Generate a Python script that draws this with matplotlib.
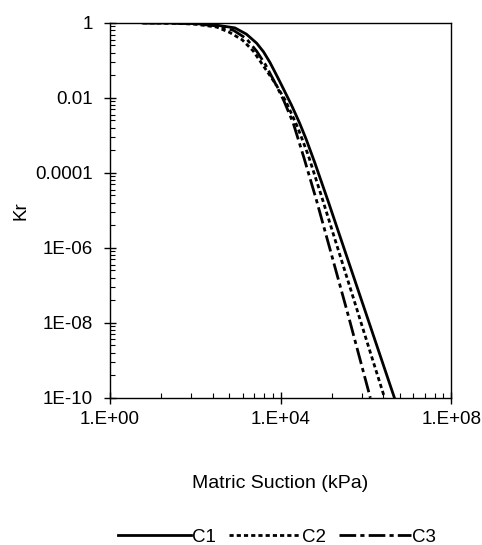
import matplotlib
matplotlib.use('Agg')
import matplotlib.pyplot as plt
import numpy as np
from matplotlib.ticker import FixedLocator, FixedFormatter, NullFormatter

# values (suction in kPa, relative permeability Kr)
c1_suction = [5.9, 31.6, 100, 316, 851, 1585, 2754, 3981, 5623, 7943, 10470,
              18200, 28180, 39810, 63100, 134900, 316200, 851100, 1.995e6, 4.68e6]
c1_kr = [1.0, 0.989, 0.955, 0.871, 0.736, 0.501, 0.288, 0.170, 0.0891, 0.0417, 0.0224,
         6.31e-3, 2.09e-3, 7.94e-4, 1.91e-4, 1.58e-5, 8.9e-7, 3.16e-8, 1.78e-9, 1e-10]

c2_suction = [5.9, 31.6, 100, 316, 631, 1259, 2291, 3981, 7586, 13180, 25120,
              44670, 91200, 199500, 501200, 1.259e6, 2.754e6]
c2_kr = [1.0, 0.977, 0.923, 0.776, 0.562, 0.355, 0.178, 0.0708, 0.0240, 8.32e-3, 1.66e-3,
         2.95e-4, 2.40e-5, 1.38e-6, 4.90e-8, 1.70e-9, 1e-10]

c3_suction = [5.9, 31.6, 100, 316, 794, 1585, 2754, 4467, 7586, 12020, 19950,
              35480, 69180, 158500, 398100, 1.274e6]
c3_kr = [1.0, 0.989, 0.944, 0.832, 0.631, 0.380, 0.176, 0.0759, 0.0240, 8.32e-3, 2.09e-3,
         2.51e-4, 1.91e-5, 6.31e-7, 1.41e-8, 1e-10]

series_labels = ['C1', 'C2', 'C3']

x_ticks = [1, 1e4, 1e8]
x_tick_labels = ['1.E+00', '1.E+04', '1.E+08']
y_ticks = [1e-10, 1e-8, 1e-6, 1e-4, 1e-2, 1]
y_tick_labels = ['1E-10', '1E-08', '1E-06', '0.0001', '0.01', '1']

FS = 13.5
plt.rcParams['font.family'] = ['Liberation Sans', 'DejaVu Sans']
plt.rcParams['font.size'] = FS


def excel_minor(majors):
    # excel spreads the 2..9 pattern over the whole major interval
    ticks = []
    for lo, hi in zip(majors[:-1], majors[1:]):
        step = np.log10(hi / lo)
        ticks += [lo * k ** step for k in range(2, 10)]
    return ticks


fig = plt.figure(figsize=(4.82, 5.45), dpi=100)
ax = fig.add_axes([0.228, 0.270, 0.708, 0.688])

ax.plot(c1_suction, c1_kr, color='black', lw=2, label=series_labels[0])
ax.plot(c2_suction, c2_kr, color='black', lw=2, linestyle=(0, (1.5, 1.1)), label=series_labels[1])
ax.plot(c3_suction, c3_kr, color='black', lw=2, linestyle=(0, (6, 1.5, 1.5, 1.5)), label=series_labels[2])

ax.set_xscale('log')
ax.set_yscale('log')
ax.set_xlim(x_ticks[0], x_ticks[-1])
ax.set_ylim(y_ticks[0], y_ticks[-1])

ax.xaxis.set_major_locator(FixedLocator(x_ticks))
ax.xaxis.set_major_formatter(FixedFormatter(x_tick_labels))
ax.xaxis.set_minor_locator(FixedLocator(excel_minor(x_ticks)))
ax.xaxis.set_minor_formatter(NullFormatter())
ax.yaxis.set_major_locator(FixedLocator(y_ticks))
ax.yaxis.set_major_formatter(FixedFormatter(y_tick_labels))
ax.yaxis.set_minor_locator(FixedLocator(excel_minor(y_ticks)))
ax.yaxis.set_minor_formatter(NullFormatter())

ax.tick_params(which='major', direction='inout', length=8.6, width=1, labelsize=FS)
ax.tick_params(axis='y', which='major', pad=8)
ax.tick_params(axis='x', which='major', pad=5)
ax.tick_params(which='minor', direction='in', length=3.6, width=0.8)
for s in ax.spines.values():
    s.set_linewidth(1)
    s.set_color('black')

ax.set_xlabel('Matric Suction (kPa)', fontsize=14, labelpad=34)
ax.set_ylabel('Kr', fontsize=FS, labelpad=4)

fig.legend(loc='center', bbox_to_anchor=(0.575, 0.014), ncol=3, frameon=False,
           handlelength=3.85, handletextpad=0.05, columnspacing=0.7, fontsize=FS)

fig.savefig('out.png', dpi=100)
plt.close()
